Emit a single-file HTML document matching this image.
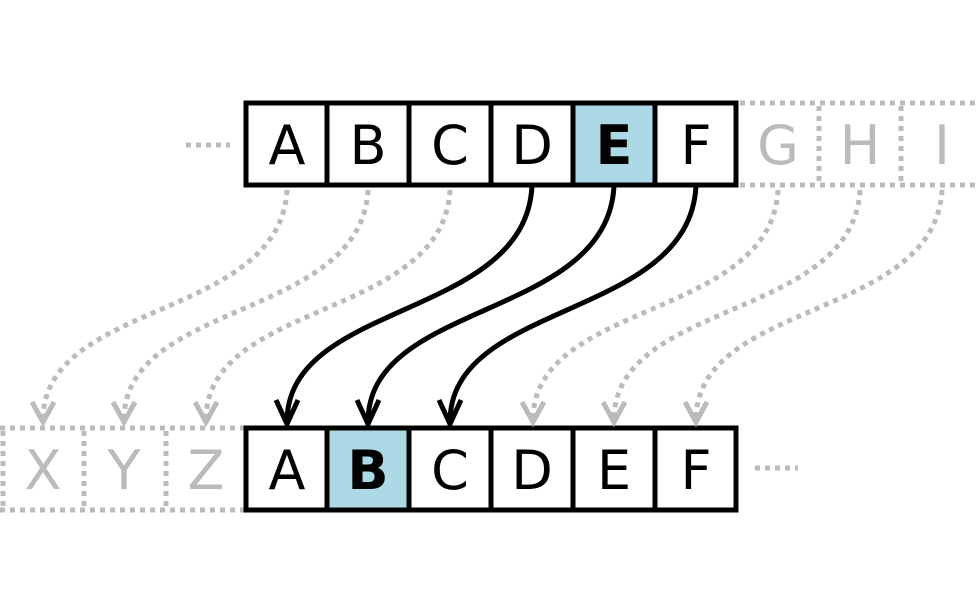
<!DOCTYPE html>
<html><head><meta charset="utf-8"><style>html,body{margin:0;padding:0;background:#fff}svg{display:block}</style></head>
<body>
<svg width="980" height="600" viewBox="0 0 980 600" xmlns="http://www.w3.org/2000/svg" font-family="DejaVu Sans, Liberation Sans, sans-serif" font-size="54" text-anchor="middle">
<rect x="573" y="103" width="82" height="82" fill="#add8e6"/>
<g fill="none" stroke="#bbb" stroke-width="5" stroke-dasharray="5 5">
<line x1="740" y1="103" x2="980" y2="103"/>
<line x1="740" y1="185" x2="980" y2="185"/>
<line x1="819" y1="106" x2="819" y2="185"/>
<line x1="901" y1="106" x2="901" y2="185"/>
<line x1="186" y1="145" x2="230" y2="145"/>
<line x1="0" y1="428" x2="244" y2="428"/>
<line x1="0" y1="510" x2="244" y2="510"/>
<line x1="3" y1="431" x2="3" y2="510"/>
<line x1="84" y1="431" x2="84" y2="510"/>
<line x1="166" y1="431" x2="166" y2="510"/>
<line x1="755" y1="468" x2="798" y2="468"/>
</g>
<g fill="none" stroke="#000" stroke-width="5">
<rect x="246" y="103" width="490" height="82"/>
<line x1="327" y1="103" x2="327" y2="185"/><line x1="409" y1="103" x2="409" y2="185"/><line x1="491" y1="103" x2="491" y2="185"/><line x1="573" y1="103" x2="573" y2="185"/><line x1="655" y1="103" x2="655" y2="185"/>
</g>
<rect x="329" y="430" width="78" height="78" fill="#add8e6"/>
<g fill="none" stroke="#000" stroke-width="5">
<rect x="246" y="428" width="490" height="82"/>
<line x1="327" y1="428" x2="327" y2="510"/><line x1="409" y1="428" x2="409" y2="510"/><line x1="491" y1="428" x2="491" y2="510"/><line x1="573" y1="428" x2="573" y2="510"/><line x1="655" y1="428" x2="655" y2="510"/>
</g>
<g fill="#000">
<text x="287" y="164">A</text><text x="368" y="164">B</text><text x="450" y="164">C</text><text x="532" y="164">D</text><text x="614" y="164" font-weight="bold">E</text><text x="696" y="164">F</text>
<text x="287" y="489">A</text><text x="368" y="489" font-weight="bold">B</text><text x="450" y="489">C</text><text x="532" y="489">D</text><text x="614" y="489">E</text><text x="696" y="489">F</text>
</g>
<g fill="#bbb">
<text x="778" y="164">G</text><text x="860" y="164">H</text><text x="942" y="164">I</text>
<text x="43" y="489">X</text><text x="124" y="489">Y</text><text x="206" y="489">Z</text>
</g>
<g fill="none" stroke="#bbb" stroke-width="5" stroke-dasharray="5 5">
<path d="M287,190 C280,320 43,300 43,420"/>
<path d="M368,190 C361,320 124,300 124,420"/>
<path d="M450,190 C443,320 206,300 206,420"/>
<path d="M778,190 C771,320 533,300 533,420"/>
<path d="M860,190 C853,320 614,300 614,420"/>
<path d="M942,190 C935,320 696,300 696,420"/>
</g>
<g fill="none" stroke="#bbb" stroke-width="5">
<path d="M32,402 L43,422 L54,402"/><path d="M113,402 L124,422 L135,402"/><path d="M195,402 L206,422 L217,402"/>
<path d="M522,402 L533,422 L544,402"/><path d="M603,402 L614,422 L625,402"/><path d="M685,402 L696,422 L707,402"/>
</g>
<g fill="none" stroke="#000" stroke-width="5">
<path d="M532,186 C525,320 287,300 287,422"/>
<path d="M614,186 C607,320 368,300 368,422"/>
<path d="M696,186 C689,320 450,300 450,422"/>
<path d="M276,400 L287,424 L298,400"/><path d="M357,400 L368,424 L379,400"/><path d="M439,400 L450,424 L461,400"/>
</g>
</svg>
</body></html>
